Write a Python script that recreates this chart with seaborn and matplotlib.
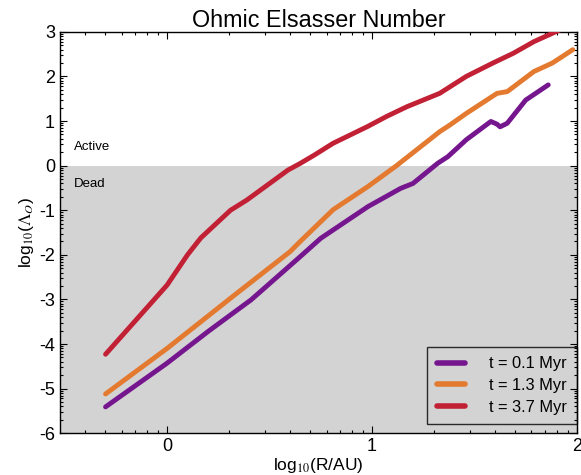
#!/usr/bin/env python3
"""
Ohmic Elsasser number vs radius for three disc ages.
"""

import numpy as np
import pandas as pd
import matplotlib
matplotlib.use('Agg')
import matplotlib.pyplot as plt
import seaborn as sns

# log10(R/AU), log10(Lambda_O)
x_01 = [-0.30, 0.00, 0.20, 0.33, 0.41, 0.65, 0.75, 0.98, 1.14, 1.20, 1.32, 1.37,
        1.46, 1.58, 1.61, 1.625, 1.66, 1.75, 1.86]
y_01 = [-5.41, -4.43, -3.72, -3.28, -3.01, -2.04, -1.63, -0.92, -0.51, -0.40, 0.05, 0.20,
        0.58, 0.99, 0.93, 0.87, 0.95, 1.47, 1.81]

x_13 = [-0.30, 0.00, 0.33, 0.60, 0.65, 0.81, 0.98, 1.12, 1.33, 1.38, 1.46, 1.61,
        1.66, 1.79, 1.88, 1.98]
y_13 = [-5.12, -4.10, -2.90, -1.93, -1.70, -0.99, -0.47, 0.00, 0.76, 0.91, 1.17, 1.62,
        1.66, 2.11, 2.30, 2.60]

x_37 = [-0.30, 0.00, 0.10, 0.165, 0.31, 0.39, 0.59, 0.65, 0.72, 0.81, 0.98, 1.07,
        1.17, 1.33, 1.46, 1.59, 1.69, 1.79, 1.92]
y_37 = [-4.23, -2.68, -2.00, -1.62, -1.00, -0.77, -0.10, 0.05, 0.24, 0.50, 0.88, 1.10,
        1.32, 1.62, 2.00, 2.30, 2.52, 2.78, 3.05]

labels = ['t = 0.1 Myr', 't = 1.3 Myr', 't = 3.7 Myr']
colors = ['#76168f', '#e37a2f', '#c22135']

df = pd.concat([
    pd.DataFrame({'logR': x_01, 'logL': y_01, 'age': labels[0]}),
    pd.DataFrame({'logR': x_13, 'logL': y_13, 'age': labels[1]}),
    pd.DataFrame({'logR': x_37, 'logL': y_37, 'age': labels[2]}),
])

sns.set_style('ticks')
plt.rcParams['font.family'] = ['Liberation Sans', 'DejaVu Sans']
plt.rcParams['mathtext.fontset'] = 'stix'
plt.rcParams['axes.unicode_minus'] = False
plt.rcParams['text.color'] = 'black'
plt.rcParams['axes.labelcolor'] = 'black'
plt.rcParams['xtick.color'] = 'black'
plt.rcParams['ytick.color'] = 'black'

fig = plt.figure(figsize=(5.81, 4.75), dpi=100)
ax = fig.add_axes([0.103, 0.088, 0.890, 0.845])

ax.axhspan(-6, 0, color='#d3d3d3', lw=0, zorder=0)

sns.lineplot(data=df, x='logR', y='logL', hue='age', palette=colors,
             sort=False, estimator=None, lw=3.5, ax=ax, zorder=3)

ax.set_xlim(-0.523, 2)
ax.set_ylim(-6, 3)
ax.set_xticks([0, 1, 2])
ax.set_yticks(range(-6, 4))
ax.set_xticklabels(['0', '1', '2'])
ax.set_yticklabels([str(v) for v in range(-6, 4)])

minor_x = [d + np.log10(k) for d in range(-1, 2) for k in range(2, 10)]
minor_y = [d + np.log10(k) for d in range(-6, 3) for k in range(2, 10)]
ax.set_xticks([v for v in minor_x if -0.523 < v < 2], minor=True)
ax.set_yticks(minor_y, minor=True)
ax.tick_params(which='both', direction='in', top=True, right=True, labelsize=13,
               color='black', width=0.8)
ax.tick_params(which='major', length=5)
ax.tick_params(which='minor', length=2.5)
for s in ax.spines.values():
    s.set_color('black')
    s.set_linewidth(1.0)

ax.text(-0.455, 0.42, 'Active', fontsize=9.5, va='center', ha='left')
ax.text(-0.455, -0.41, 'Dead', fontsize=9.5, va='center', ha='left')

ax.set_title('Ohmic Elsasser Number', fontsize=16.8, pad=2)
ax.set_xlabel(r'log$_{10}$(R/AU)', fontsize=12.5, labelpad=1)
ax.set_ylabel(r'log$_{10}$($\Lambda_O$)', fontsize=12.5, labelpad=2)

leg = ax.legend(loc='lower right', bbox_to_anchor=(1.0, 0.022), fontsize=11.8,
                frameon=True, fancybox=False, edgecolor='black', facecolor='none',
                handlelength=1.7, handletextpad=1.5, borderaxespad=0.0,
                labelspacing=0.4, borderpad=0.6)
leg.get_frame().set_linewidth(1.0)
for h in leg.get_lines():
    h.set_linewidth(4)

fig.savefig('out.png', dpi=100)
